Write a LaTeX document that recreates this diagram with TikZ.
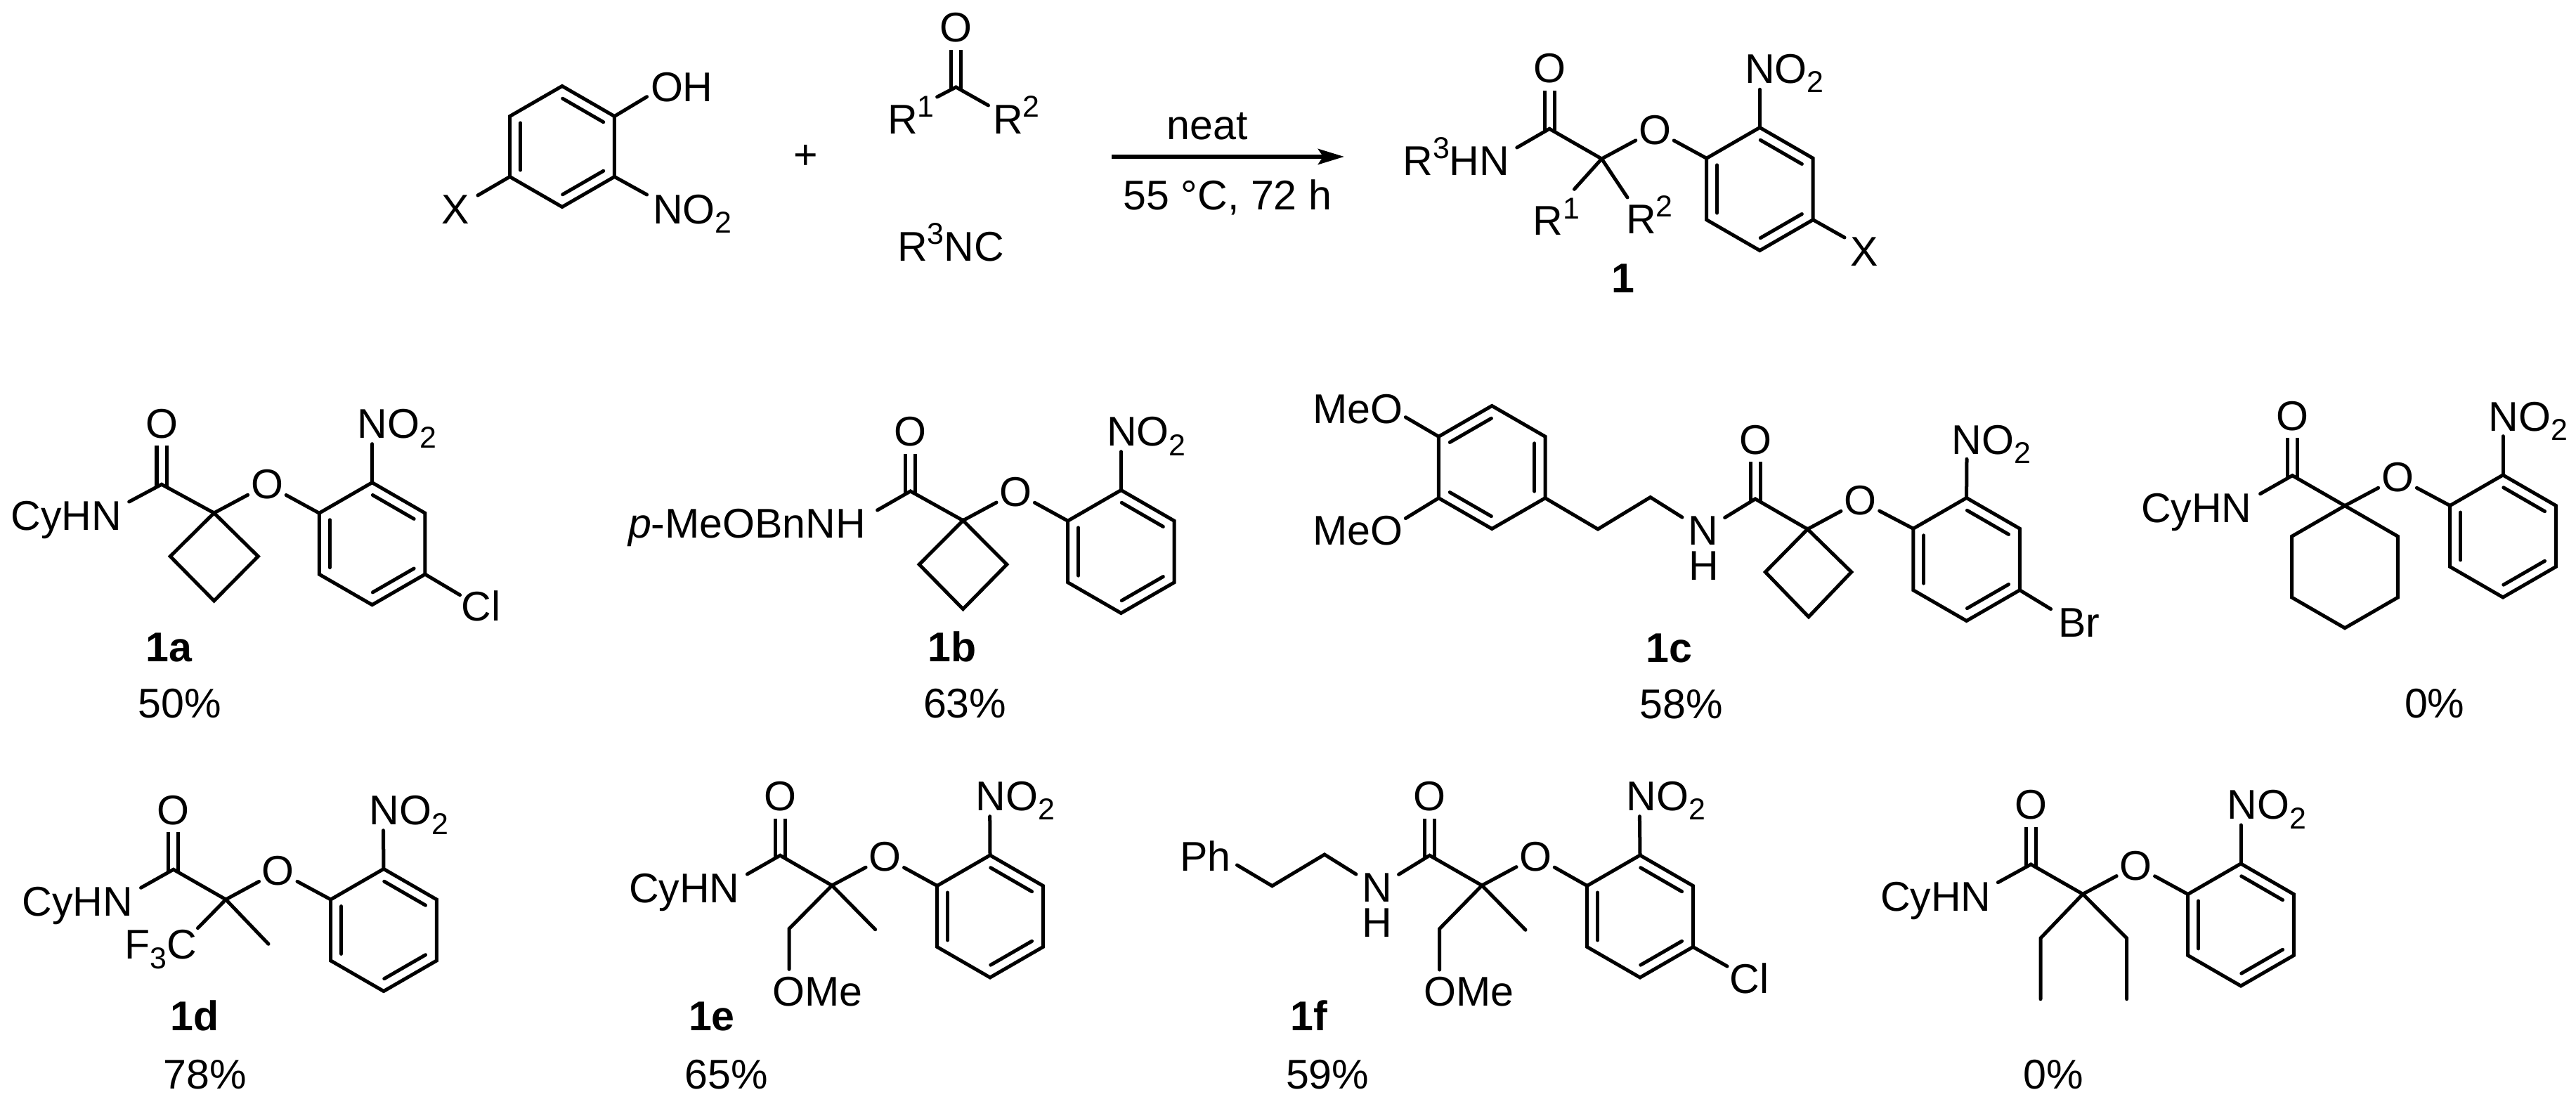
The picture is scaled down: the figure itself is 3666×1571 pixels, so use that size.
\documentclass[tikz,border=0pt]{standalone}
\usepackage{fontspec}
\setmainfont{Liberation Sans}
\usetikzlibrary{calc,arrows.meta}
\tikzset{
  txt/.style={anchor=base west,inner sep=0pt,outer sep=0pt,xshift=-.04cm},
  atom/.style={shape=circle,anchor=base,inner sep=0pt,outer sep=0pt},
  amine/.style={shape=rectangle,anchor=base,inner sep=0pt,outer xsep=.09cm,outer ysep=0pt},
  bond/.style={line width=.05cm,line cap=round,line join=miter},
  carbonyl/.style={line width=.05cm,line cap=butt,double,double distance=.09cm,shorten <=-.03cm}
}
\newcommand{\sbs}[1]{\raisebox{-3.7pt}{\fontsize{12.2}{14}\selectfont #1}}
\newcommand{\sps}[1]{\raisebox{6.8pt}{\fontsize{12.2}{14}\selectfont #1}}
\newcommand{\hexring}[4]{
\coordinate (#11) at (#2,{#3-#4});
\coordinate (#12) at ({#2+.866*#4},{#3-.5*#4});
\coordinate (#13) at ({#2+.866*#4},{#3+.5*#4});
\coordinate (#14) at (#2,{#3+#4});
\coordinate (#15) at ({#2-.866*#4},{#3+.5*#4});
\coordinate (#16) at ({#2-.866*#4},{#3-.5*#4});
\path[draw,bond] (#11) -- (#12) -- (#13) -- (#14) -- (#15) -- (#16) -- cycle;
}
\newcommand{\innerbond}[2]{\path[draw,bond] ($(#1)!.11!(#2)!.15cm!-90:(#2)$) -- ($(#2)!.11!(#1)!.15cm!90:(#1)$);}
\begin{document}
\begin{tikzpicture}[x=.01cm,y=-.01cm,every node/.style={font=\fontsize{16.8}{20}\selectfont}]
\useasboundingbox (0,0) rectangle (3666,1571);
\hexring{ph}{800}{208.5}{86}
\innerbond{ph1}{ph2}
\innerbond{ph3}{ph4}
\innerbond{ph5}{ph6}
\node[txt] (oh) at (930,145) {OH};
\node[txt] (phno) at (933,319) {NO\sbs{2}};
\node[txt] (phx) at (632,319) {X};
\coordinate (ohb) at (920.6,137.7);
\coordinate (phnob) at (920.6,277);
\coordinate (phxb) at (680,278);
\path[draw,bond] (ph2) -- (ohb);
\path[draw,bond] (ph3) -- (phnob);
\path[draw,bond] (ph5) -- (phxb);
\node[anchor=center,inner sep=0pt] (plus) at (1147,223) {+};
\coordinate (kc) at (1360.5,124);
\node[atom] (ko) at (1360.5,60) {O};
\node[txt] (kr1) at (1267,190.7) {R\sps{1}};
\node[txt] (kr2) at (1417,190.7) {R\sps{2}};
\coordinate (kr1b) at (1333.6,138);
\coordinate (kr2b) at (1406.5,150);
\path[draw,carbonyl] (kc) -- (ko);
\path[draw,bond] (kr1b) -- (kc) -- (kr2b);
\node[txt] (nc) at (1281,371.7) {R\sps{3}NC};
\coordinate (ar1) at (1582,223);
\coordinate (ar2) at (1913,223);
\path[draw,line width=.06cm,-{Stealth[length=.37cm,width=.22cm,inset=.07cm]}] (ar1) -- (ar2);
\node[atom] (neat) at (1718,199) {neat};
\node[atom] (cond) at (1747,299) {55 °C, 72 h};
\hexring{pr}{2504.4}{269}{87.5}
\innerbond{pr1}{pr2}
\innerbond{pr3}{pr4}
\innerbond{pr5}{pr6}
\coordinate (prc) at (2205,183.3);
\coordinate (prq) at (2279.4,226);
\node[atom] (pro) at (2205,118) {O};
\node[atom] (proe) at (2355,205.5) {O};
\node[txt] (prno) at (2487,118.3) {NO\sbs{2}};
\node[txt] (prx) at (2637,379) {X};
\node[txt] (prn) at (2000.4,249.3) {R\sps{3}HN};
\node[txt] (prr1) at (2185.8,335) {R\sps{1}};
\node[txt] (prr2) at (2318,332.3) {R\sps{2}};
\coordinate (prnob) at (2504.4,127.3);
\coordinate (prxb) at (2625,338);
\coordinate (prnb) at (2158.8,210);
\coordinate (prr1b) at (2240.4,269.3);
\coordinate (prr2b) at (2316,281);
\path[draw,carbonyl] (prc) -- (pro);
\path[draw,bond] (prnb) -- (prc) -- (prq);
\path[draw,bond] (prq) -- (proe);
\path[draw,bond] (proe) -- (pr6);
\path[draw,bond] (prq) -- (prr1b);
\path[draw,bond] (prq) -- (prr2b);
\path[draw,bond] (pr1) -- (prnob);
\path[draw,bond] (pr3) -- (prxb);
\node[txt] (prl) at (2297.7,416.7) {\textbf{1}};
\hexring{ra}{529.6}{773.7}{87}
\innerbond{ra1}{ra2}
\innerbond{ra3}{ra4}
\innerbond{ra5}{ra6}
\coordinate (ac) at (230,689.3);
\coordinate (aq) at (304.6,730);
\coordinate (ab1) at (367.3,791.7);
\coordinate (ab2) at (304.6,855);
\coordinate (ab3) at (242.3,791.7);
\node[atom] (ao) at (230,623.3) {O};
\node[atom] (aoe) at (380,710) {O};
\node[txt] (ano) at (512.8,624) {NO\sbs{2}};
\node[txt] (acl) at (660.7,883.3) {Cl};
\node[txt] (an) at (19.4,754.3) {CyHN};
\coordinate (anob) at (529.6,631.7);
\coordinate (aclb) at (654.6,846.7);
\coordinate (anb) at (183.7,714);
\path[draw,carbonyl] (ac) -- (ao);
\path[draw,bond] (anb) -- (ac) -- (aq);
\path[draw,bond] (aq) -- (aoe);
\path[draw,bond] (aoe) -- (ra6);
\path[draw,bond] (aq) -- (ab1) -- (ab2) -- (ab3) -- cycle;
\path[draw,bond] (ra1) -- (anob);
\path[draw,bond] (ra3) -- (aclb);
\node[txt] (al) at (211.7,941.7) {\textbf{1a}};
\node[txt] (ay) at (200.5,1021.7) {50\%};
\hexring{rb}{1595.4}{785}{87.5}
\innerbond{rb1}{rb2}
\innerbond{rb3}{rb4}
\innerbond{rb5}{rb6}
\coordinate (bc) at (1295.7,699);
\coordinate (bq) at (1370.5,740.7);
\coordinate (bb1) at (1432.8,803.3);
\coordinate (bb2) at (1370.5,866.7);
\coordinate (bb3) at (1308.2,803.3);
\node[atom] (bo) at (1295.7,635) {O};
\node[atom] (boe) at (1445.3,720.7) {O};
\node[txt] (bno) at (1579,635) {NO\sbs{2}};
\node[txt] (bn) at (898,765.7) {\textit{p}-MeOBnNH};
\coordinate (bnob) at (1595.4,642.7);
\coordinate (bnb) at (1248.6,726);
\path[draw,carbonyl] (bc) -- (bo);
\path[draw,bond] (bnb) -- (bc) -- (bq);
\path[draw,bond] (bq) -- (boe);
\path[draw,bond] (boe) -- (rb6);
\path[draw,bond] (bq) -- (bb1) -- (bb2) -- (bb3) -- cycle;
\path[draw,bond] (rb1) -- (bnob);
\node[txt] (bl) at (1324.4,941.7) {\textbf{1b}};
\node[txt] (by) at (1318,1021.7) {63\%};
\hexring{mc}{2123.2}{665}{87.5}
\innerbond{mc6}{mc1}
\innerbond{mc2}{mc3}
\innerbond{mc4}{mc5}
\node[txt] (me1) at (1872,602.3) {MeO};
\node[txt] (me2) at (1872,775.5) {MeO};
\coordinate (me1b) at (2000.3,593.7);
\coordinate (me2b) at (2000.3,737.6);
\path[draw,bond] (mc6) -- (me1b);
\path[draw,bond] (mc5) -- (me2b);
\coordinate (ch1) at (2274,753);
\coordinate (ch2) at (2348.7,707.6);
\node[amine] (cn) at (2424.3,775.5) {N};
\node[txt] (ch) at (2407,825.4) {H};
\hexring{rc}{2798.6}{796}{87.5}
\innerbond{rc1}{rc2}
\innerbond{rc3}{rc4}
\innerbond{rc5}{rc6}
\coordinate (cc) at (2498,710);
\coordinate (cq) at (2572.4,753);
\coordinate (cb1) at (2634.8,814);
\coordinate (cb2) at (2573.9,877.8);
\coordinate (cb3) at (2512.3,814);
\node[atom] (co) at (2498,646.3) {O};
\node[atom] (coe) at (2647.2,733) {O};
\node[txt] (cno) at (2781.4,646.3) {NO\sbs{2}};
\node[txt] (cbr) at (2933,906.3) {Br};
\coordinate (cnob) at (2799,653.2);
\coordinate (cbrb) at (2918.6,866.7);
\path[draw,bond] (mc3) -- (ch1) -- (ch2) -- (cn);
\path[draw,carbonyl] (cc) -- (co);
\path[draw,bond] (cn) -- (cc) -- (cq);
\path[draw,bond] (cq) -- (coe);
\path[draw,bond] (coe) -- (rc6);
\path[draw,bond] (cq) -- (cb1) -- (cb2) -- (cb3) -- cycle;
\path[draw,bond] (rc1) -- (cnob);
\path[draw,bond] (rc3) -- (cbrb);
\node[txt] (cl) at (2346.5,942.5) {\textbf{1c}};
\node[txt] (cy) at (2337.7,1022.4) {58\%};
\hexring{rx}{3562}{763}{87}
\innerbond{rx1}{rx2}
\innerbond{rx3}{rx4}
\innerbond{rx5}{rx6}
\hexring{hx}{3337}{806.7}{87}
\coordinate (xc) at (3262.3,676.7);
\node[atom] (xo) at (3262.3,612.7) {O};
\node[atom] (xoe) at (3412,700) {O};
\node[txt] (xno) at (3545.9,613.3) {NO\sbs{2}};
\node[txt] (xn) at (3051,743.3) {CyHN};
\coordinate (xnob) at (3562,620.7);
\coordinate (xnb) at (3216.6,702.7);
\path[draw,carbonyl] (xc) -- (xo);
\path[draw,bond] (xnb) -- (xc) -- (hx1);
\path[draw,bond] (hx1) -- (xoe);
\path[draw,bond] (xoe) -- (rx6);
\path[draw,bond] (rx1) -- (xnob);
\node[txt] (xy) at (3426,1021.7) {0\%};
\hexring{rd}{546}{1323.5}{87}
\innerbond{rd1}{rd2}
\innerbond{rd3}{rd4}
\innerbond{rd5}{rd6}
\coordinate (dc) at (246.8,1237.3);
\coordinate (dq) at (321.4,1280);
\node[atom] (do) at (246.8,1173.3) {O};
\node[atom] (doe) at (395.8,1260) {O};
\node[txt] (dno) at (529.4,1174) {NO\sbs{2}};
\node[txt] (dn) at (35.8,1304) {CyHN};
\node[txt] (df) at (181.4,1365) {F\sbs{3}C};
\coordinate (dnob) at (545.5,1181.7);
\coordinate (dnb) at (200.6,1263.3);
\coordinate (dfb) at (281.5,1320.7);
\coordinate (dme) at (382,1343.3);
\path[draw,carbonyl] (dc) -- (do);
\path[draw,bond] (dnb) -- (dc) -- (dq);
\path[draw,bond] (dq) -- (doe);
\path[draw,bond] (doe) -- (rd6);
\path[draw,bond] (dfb) -- (dq) -- (dme);
\path[draw,bond] (rd1) -- (dnob);
\node[txt] (dl) at (246.6,1466.7) {\textbf{1d}};
\node[txt] (dy) at (236.5,1549) {78\%};
\hexring{re}{1409}{1304}{87}
\innerbond{re1}{re2}
\innerbond{re3}{re4}
\innerbond{re5}{re6}
\coordinate (ec) at (1110.2,1217.3);
\coordinate (eq) at (1184,1260);
\coordinate (eh) at (1123,1321.7);
\node[atom] (eo) at (1110.2,1154) {O};
\node[atom] (eoe) at (1259.4,1240) {O};
\node[txt] (eno) at (1392.6,1153.3) {NO\sbs{2}};
\node[txt] (en) at (899,1284.3) {CyHN};
\node[txt] (eome) at (1103.3,1431.7) {OMe};
\coordinate (enob) at (1408.7,1161.7);
\coordinate (enb) at (1063.4,1244);
\coordinate (eomeb) at (1123,1379.3);
\coordinate (eme) at (1245.7,1322.7);
\path[draw,carbonyl] (ec) -- (eo);
\path[draw,bond] (enb) -- (ec) -- (eq);
\path[draw,bond] (eq) -- (eoe);
\path[draw,bond] (eoe) -- (re6);
\path[draw,bond] (eomeb) -- (eh) -- (eq) -- (eme);
\path[draw,bond] (re1) -- (enob);
\node[txt] (el) at (984,1466.7) {\textbf{1e}};
\node[txt] (ey) at (978.5,1549) {65\%};
\hexring{rf}{2334}{1304}{87}
\innerbond{rf1}{rf2}
\innerbond{rf3}{rf4}
\innerbond{rf5}{rf6}
\coordinate (fc) at (2034.6,1217.3);
\coordinate (fq) at (2109,1260);
\coordinate (fh) at (2048.6,1321.7);
\coordinate (f1) at (1810.4,1260.7);
\coordinate (f2) at (1885,1216);
\node[atom] (fo) at (2034.6,1154) {O};
\node[atom] (foe) at (2185.3,1239.3) {O};
\node[amine] (fn) at (1960.2,1283.3) {N};
\node[txt] (fnh) at (1942.9,1333.3) {H};
\node[txt] (fno) at (2318.4,1153.3) {NO\sbs{2}};
\node[txt] (fcl) at (2465.4,1413.3) {Cl};
\node[txt] (fph) at (1683,1240) {Ph};
\node[txt] (fome) at (2030.3,1431.7) {OMe};
\coordinate (fnob) at (2333.4,1161.7);
\coordinate (fclb) at (2458,1375);
\coordinate (fphb) at (1760.5,1231);
\coordinate (fomeb) at (2048.6,1380);
\coordinate (fme) at (2171,1323.3);
\path[draw,bond] (fphb) -- (f1) -- (f2) -- (fn);
\path[draw,carbonyl] (fc) -- (fo);
\path[draw,bond] (fn) -- (fc) -- (fq);
\path[draw,bond] (fq) -- (foe);
\path[draw,bond] (foe) -- (rf6);
\path[draw,bond] (fomeb) -- (fh) -- (fq) -- (fme);
\path[draw,bond] (rf1) -- (fnob);
\path[draw,bond] (rf3) -- (fclb);
\node[txt] (fl) at (1840.8,1466.7) {\textbf{1f}};
\node[txt] (fy) at (1834,1549) {59\%};
\hexring{rg}{3189}{1316}{87}
\innerbond{rg1}{rg2}
\innerbond{rg3}{rg4}
\innerbond{rg5}{rg6}
\coordinate (gc) at (2890.2,1230);
\coordinate (gq) at (2964.1,1272.3);
\coordinate (g1) at (2904,1335);
\coordinate (g2) at (2904,1421.7);
\coordinate (g3) at (3026.6,1335);
\coordinate (g4) at (3026.6,1421.7);
\node[atom] (go) at (2890.2,1166) {O};
\node[atom] (goe) at (3039.4,1252.3) {O};
\node[txt] (gno) at (3173.5,1166) {NO\sbs{2}};
\node[txt] (gn) at (2680,1296.7) {CyHN};
\coordinate (gnob) at (3189,1174);
\coordinate (gnb) at (2843.4,1255.7);
\path[draw,carbonyl] (gc) -- (go);
\path[draw,bond] (gnb) -- (gc) -- (gq);
\path[draw,bond] (gq) -- (goe);
\path[draw,bond] (goe) -- (rg6);
\path[draw,bond] (g2) -- (g1) -- (gq) -- (g3) -- (g4);
\path[draw,bond] (rg1) -- (gnob);
\node[txt] (gy) at (2883.3,1549) {0\%};
\end{tikzpicture}
\end{document}
